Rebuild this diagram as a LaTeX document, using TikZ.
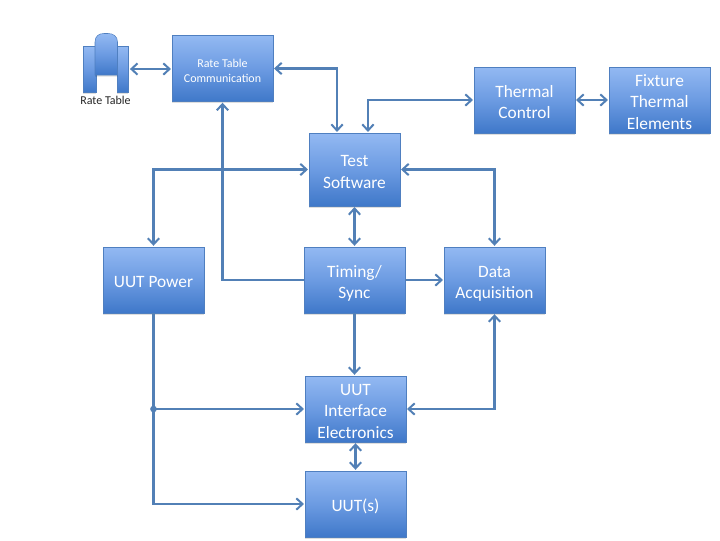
\documentclass[tikz,border=0pt]{standalone}
\usepackage{fontspec}
\setmainfont{Carlito}
\usetikzlibrary{arrows.meta,shadows,calc}
\newcommand{\lowtext}[1]{\raisebox{-2.7pt}[\height][\depth]{\begin{tabular}{@{}c@{}}#1\end{tabular}}}
\tikzset{
  x=0.75pt,y=-0.75pt,
  softshade/.style={preaction={fill=black,opacity=0.13,transform canvas={yshift=-1.3pt}}},
  blockbox/.style={draw=blockedge,line width=0.4pt,top color=blocktop,bottom color=blockbot,middle color=blockmid,
    text=white,align=center,inner sep=0pt,font=\fontsize{13}{16.4}\selectfont,softshade},
  wideblock/.style={blockbox,minimum width=75.5pt,minimum height=49.5pt},
  conn/.style={draw=connblue,line width=1.75pt,line join=miter},
  both/.style={conn,{Straight Barb[length=4.6pt,width=8.5pt,line width=1.5pt]}-{Straight Barb[length=4.6pt,width=8.5pt,line width=1.5pt]},shorten <=0.7pt,shorten >=0.7pt},
  single/.style={conn,-{Straight Barb[length=4.6pt,width=8.5pt,line width=1.5pt]},shorten >=0.7pt},
  iconpart/.style={draw=blockedge,line width=0.4pt,top color=blocktop,bottom color=blockbot,middle color=blockmid}
}
\definecolor{blocktop}{HTML}{93B9F2}
\definecolor{blockmid}{HTML}{6C9BE2}
\definecolor{blockbot}{HTML}{3F78C9}
\definecolor{blockedge}{HTML}{4F7FC0}
\definecolor{connblue}{HTML}{5280B6}
\begin{document}
\begin{tikzpicture}
\useasboundingbox (0,0) rectangle (720,540);
\fill[white] (0,0) rectangle (720,540);
% rate table icon
\path[iconpart,softshade] (83,46) rectangle (96,92);
\path[iconpart,softshade] (117,46) rectangle (128,92);
\path[iconpart,softshade] (95,75) -- (95,42) .. controls (95,36) and (99,33.5) .. (104,33.5) -- (108,33.5) .. controls (113,33.5) and (117.5,36) .. (117.5,42) -- (117.5,75) -- cycle;
\node[inner sep=0pt,font=\fontsize{9}{11}\selectfont,text=black!85] (rtlabel) at (105.5,100) {Rate Table};
\coordinate (rticon) at (129,69);
% blocks
\node[wideblock,font=\fontsize{9}{11.5}\selectfont] (comm) at (222.5,68.5) {\lowtext{Rate Table\\Communication}};
\node[wideblock] (therm) at (524.5,100) {\lowtext{Thermal\\Control}};
\node[wideblock] (fix) at (659.5,100) {\lowtext{Fixture\\Thermal\\Elements}};
\node[blockbox,minimum width=68pt,minimum height=54.5pt] (soft) at (354.5,169.5) {\lowtext{Test\\Software}};
\node[wideblock] (power) at (153.5,280) {\lowtext{UUT Power}};
\node[wideblock] (timing) at (354.5,280) {\lowtext{Timing/\\Sync}};
\node[wideblock] (daq) at (494.5,280) {\lowtext{Data\\Acquisition}};
\node[wideblock] (iface) at (355.5,409) {\lowtext{UUT\\Interface\\Electronics}};
\node[wideblock] (uut) at (355.5,504) {\lowtext{UUT(s)}};
% connectors
\draw[both] (rticon) -- (comm.west |- rticon);
\draw[both] (comm.east) -| ([xshift=-13.1pt]soft.north);
\draw[both] (therm.west) -| ([xshift=10.1pt]soft.north);
\draw[both] (therm.east) -- (fix.west);
\draw[both] (soft.west) -| (power.north);
\draw[both] (soft.east) -| (daq.north);
\draw[both] (soft.south) -- (timing.north);
\draw[single] (timing.west) -| (comm.south);
\draw[single] (timing.east) -- (daq.west);
\draw[single] (timing.south) -- (timing.south |- iface.north);
\draw[both] (daq.south) |- (iface.east);
\draw[both] (iface.south) -- (uut.north);
\draw[single] (power.south) |- (uut.west);
\coordinate (tap) at (power.south |- iface.west);
\draw[single] (tap) -- (iface.west);
\fill[connblue] (tap) circle (2.5pt);
\end{tikzpicture}
\end{document}
